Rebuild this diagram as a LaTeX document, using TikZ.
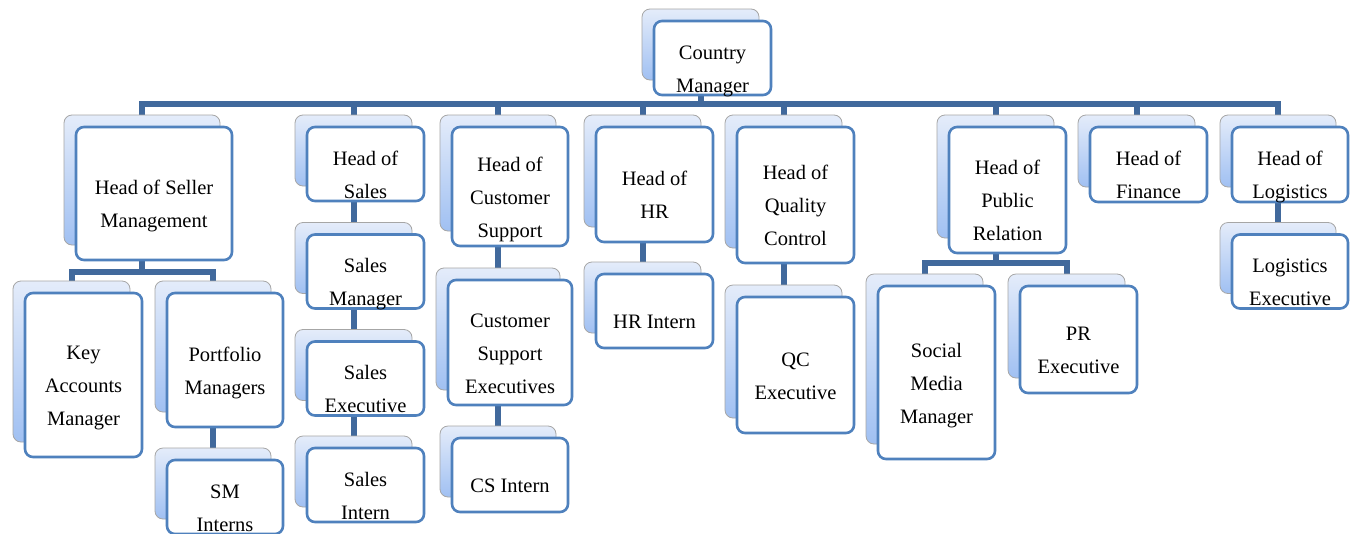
\documentclass[tikz,border=0pt]{standalone}
\usepackage{fontspec}
\setmainfont{Liberation Serif}
\usetikzlibrary{calc}
\definecolor{barblue}{HTML}{41699C}
\definecolor{edgeblue}{HTML}{4F81BD}
\definecolor{backtop}{HTML}{E4ECFA}
\definecolor{backbot}{HTML}{A0C0F2}
\pgfdeclarelayer{bg}
\pgfsetlayers{bg,main}
\tikzset{
  backbox/.style={rounded corners=8pt, draw=black!35, line width=0.8pt,
    top color=backtop, bottom color=backbot, inner sep=0pt, outer sep=0pt},
  frontbox/.style={rounded corners=8pt, draw=edgeblue, line width=2.6pt,
    fill=white, inner sep=0pt, outer sep=0pt},
  lbl/.style={font=\fontsize{20.5}{33}\selectfont, align=center, inner sep=0pt},
  conn/.style={draw=barblue, line width=6pt, line join=miter}
}
\newcommand\obox[6]{%
  \node[backbox, minimum width=#4pt, minimum height={#5pt-3pt}] (#1-b) at (#2-12,#3-13.5) {};
  \node[frontbox, minimum width=#4pt, minimum height=#5pt] (#1) at (#2,#3) {};
  \node[lbl] (#1-t) at (#2,#3+11) {\strut #6\strut};
}
\begin{document}
\begin{tikzpicture}[x=1pt,y=-1pt]
\useasboundingbox (0,0) rectangle (1354,533);
% boxes
\obox{cm}{712.5}{58}{117}{74}{Country\\Manager}
\obox{hsm}{154}{193.5}{156}{133}{Head of Seller\\Management}
\obox{kam}{83.5}{375}{117}{164}{Key\\Accounts\\Manager}
\obox{pm}{225}{360}{116}{134}{Portfolio\\Managers}
\obox{smi}{225}{497}{116}{74}{SM\\Interns}
\obox{hs}{365.5}{164}{117}{74}{Head of\\Sales}
\obox{sm}{365.5}{271.5}{117}{74}{Sales\\Manager}
\obox{se}{365.5}{378.5}{117}{74}{Sales\\Executive}
\obox{si}{365.5}{485}{117}{74}{Sales\\Intern}
\obox{hcs}{510}{186.5}{116}{119}{Head of\\Customer\\Support}
\obox{cse}{510}{342.5}{124}{125}{Customer\\Support\\Executives}
\obox{csi}{510}{475}{116}{74}{CS Intern}
\obox{hhr}{654.5}{184.5}{117}{115}{Head of\\HR}
\obox{hri}{654.5}{311}{117}{74}{HR Intern}
\obox{hqc}{795.5}{195}{117}{136}{Head of\\Quality\\Control}
\obox{qce}{795.5}{365}{117}{136}{QC\\Executive}
\obox{hpr}{1007.5}{190}{117}{126}{Head of\\Public\\Relation}
\obox{smm}{936.5}{372.5}{117}{173}{Social\\Media\\Manager}
\obox{pre}{1078.5}{339.5}{117}{107}{PR\\Executive}
\obox{hf}{1148.5}{164.5}{117}{75}{Head of\\Finance}
\obox{hl}{1290}{164.5}{116}{75}{Head of\\Logistics}
\obox{le}{1290}{271.5}{116}{74}{Logistics\\Executive}
% connectors
\begin{pgfonlayer}{bg}
\fill[white] (0,0) rectangle (1354,533);
\coordinate (barY) at (0,104);
\coordinate (hsmY) at (0,272);
\coordinate (hprY) at (0,263);
\foreach \c in {hsm,hs,hcs,hhr,hqc,hpr,hf,hl}
  \draw[conn] (cm-b.south) |- (barY -| \c-b.north) -- (\c-b.north);
\foreach \c in {kam,pm}
  \draw[conn] (hsm-b.south) |- (hsmY -| \c-b.north) -- (\c-b.north);
\foreach \c in {smm,pre}
  \draw[conn] (hpr-b.south) |- (hprY -| \c-b.north) -- (\c-b.north);
\draw[conn] (pm-b.south) -- (smi-b.north);
\draw[conn] (hs-b.south) -- (sm-b.north);
\draw[conn] (sm-b.south) -- (se-b.north);
\draw[conn] (se-b.south) -- (si-b.north);
\draw[conn] (hcs-b.south) -- (cse-b.north);
\draw[conn] (cse-b.south) -- (csi-b.north);
\draw[conn] (hhr-b.south) -- (hri-b.north);
\draw[conn] (hqc-b.south) -- (qce-b.north);
\draw[conn] (hl-b.south) -- (le-b.north);
\end{pgfonlayer}
\end{tikzpicture}
\end{document}
